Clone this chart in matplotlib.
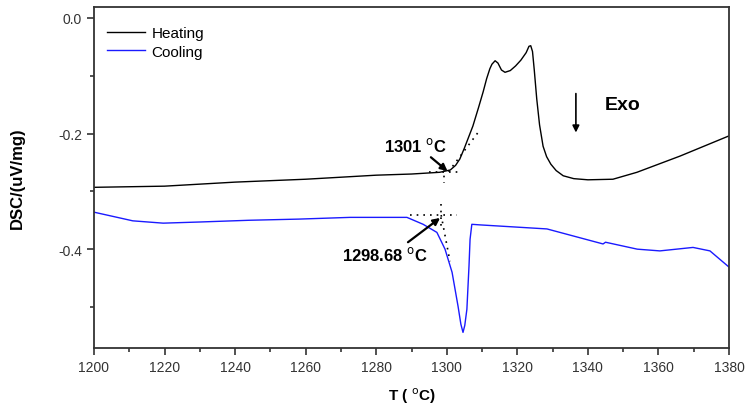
import matplotlib
matplotlib.use("Agg")
import matplotlib.pyplot as plt
from matplotlib.ticker import MultipleLocator

plt.rcParams['font.family'] = ['Liberation Sans', 'DejaVu Sans']

# ── data (T in °C, DSC in uV/mg) ──
heat_T = [1200, 1220, 1240, 1260, 1280, 1290, 1298, 1301, 1302.5, 1303.7,
          1305, 1307.4, 1309, 1310.3, 1311.3, 1312.2, 1312.8, 1313.7, 1314.5,
          1315.5, 1316.5, 1318, 1319.5, 1321, 1322.5, 1323.3, 1323.8, 1324.3,
          1324.8, 1325.5, 1326.3, 1327.3, 1328.3, 1329.5, 1331, 1333, 1336,
          1340, 1347.1, 1353.9, 1366.1, 1380]
heat_v = [-0.293, -0.291, -0.284, -0.279, -0.272, -0.270, -0.267, -0.263, -0.255, -0.244,
          -0.225, -0.187, -0.155, -0.128, -0.105, -0.088, -0.080, -0.074, -0.078,
          -0.090, -0.094, -0.091, -0.083, -0.073, -0.060, -0.049, -0.048, -0.058,
          -0.090, -0.140, -0.185, -0.222, -0.240, -0.253, -0.264, -0.273, -0.278,
          -0.280, -0.279, -0.267, -0.239, -0.204]

cool_T = [1200, 1211, 1219.6, 1230, 1244, 1258, 1272.6, 1288.7, 1293.3, 1297.2,
          1299.5, 1301.5, 1303.2, 1304.0, 1304.6, 1305.1, 1305.7, 1306.3,
          1306.6, 1307.1, 1309.4, 1328.4, 1344.3, 1345.0, 1354, 1360.4,
          1369.8, 1374.6, 1380]
cool_v = [-0.336, -0.351, -0.355, -0.353, -0.350, -0.348, -0.345, -0.345, -0.357, -0.371,
          -0.400, -0.440, -0.499, -0.530, -0.544, -0.532, -0.504, -0.429,
          -0.383, -0.357, -0.358, -0.365, -0.391, -0.388, -0.400, -0.403,
          -0.397, -0.403, -0.431]

fig = plt.figure(figsize=(7.49, 4.10), dpi=100)
ax = fig.add_axes([0.1255, 0.1488, 0.8478, 0.8317])

ax.plot(heat_T, heat_v, color='black', lw=1.0, label='Heating')
ax.plot(cool_T, cool_v, color='#1a1aff', lw=1.0, label='Cooling')

# dotted tangent lines (heating onset)
dot = dict(color='black', lw=1.2, linestyle=(0, (1, 3)))
ax.plot([1295, 1304], [-0.266, -0.266], **dot)
ax.plot([1299.2, 1299.2], [-0.262, -0.285], **dot)
ax.plot([1300.5, 1309], [-0.266, -0.197], **dot)
# dotted tangent lines (cooling onset)
ax.plot([1289.6, 1302.9], [-0.341, -0.341], **dot)
ax.plot([1298.4, 1298.4], [-0.322, -0.360], **dot)
ax.plot([1298.4, 1300.9], [-0.341, -0.421], **dot)

arr = dict(arrowstyle='-|>', color='black', lw=1.6, mutation_scale=10,
           shrinkA=0, shrinkB=0)
ax.text(1291, -0.220, '1301 $^{\\rm o}$C', fontsize=12, fontweight='bold',
        ha='center', va='center')
ax.annotate('', xy=(1300.2, -0.265), xytext=(1295.5, -0.241), arrowprops=arr)
ax.text(1282.4, -0.409, '1298.68 $^{\\rm o}$C', fontsize=12, fontweight='bold',
        ha='center', va='center')
ax.annotate('', xy=(1298.1, -0.346), xytext=(1289, -0.388), arrowprops=arr)

# Exo arrow
ax.annotate('', xy=(1336.6, -0.203), xytext=(1336.6, -0.126),
            arrowprops=dict(arrowstyle='-|>', color='black', lw=1.2, mutation_scale=10))
ax.text(1344.8, -0.149, 'Exo', fontsize=14, fontweight='bold', ha='left', va='center')

ax.set_xlim(1200, 1380)
ax.set_ylim(-0.571, 0.019)
ax.xaxis.set_major_locator(MultipleLocator(20))
ax.xaxis.set_minor_locator(MultipleLocator(10))
ax.yaxis.set_minor_locator(MultipleLocator(0.1))
ax.set_yticks([0.0, -0.2, -0.4])
ax.set_yticklabels(['0.0', '-0.2', '-0.4'])
ax.tick_params(which='major', direction='out', length=5, width=1.2, labelsize=10,
               labelcolor='#333333', color='#333333')
ax.tick_params(which='minor', direction='out', length=3, width=1.2, color='#333333')
for s in ax.spines.values():
    s.set_linewidth(1.3)
    s.set_color('#333333')

ax.set_xlabel('T ( $^{\\rm o}$C)', fontsize=11, fontweight='bold', labelpad=8)
ax.set_ylabel('DSC/(uV/mg)', fontsize=12, fontweight='bold', labelpad=24)

ax.legend(loc='upper left', bbox_to_anchor=(0.0205, 0.944), frameon=False,
          fontsize=11, handlelength=2.5, handletextpad=0.4, borderpad=0,
          borderaxespad=0, labelspacing=0.3)

fig.savefig('out.png', dpi=100)
